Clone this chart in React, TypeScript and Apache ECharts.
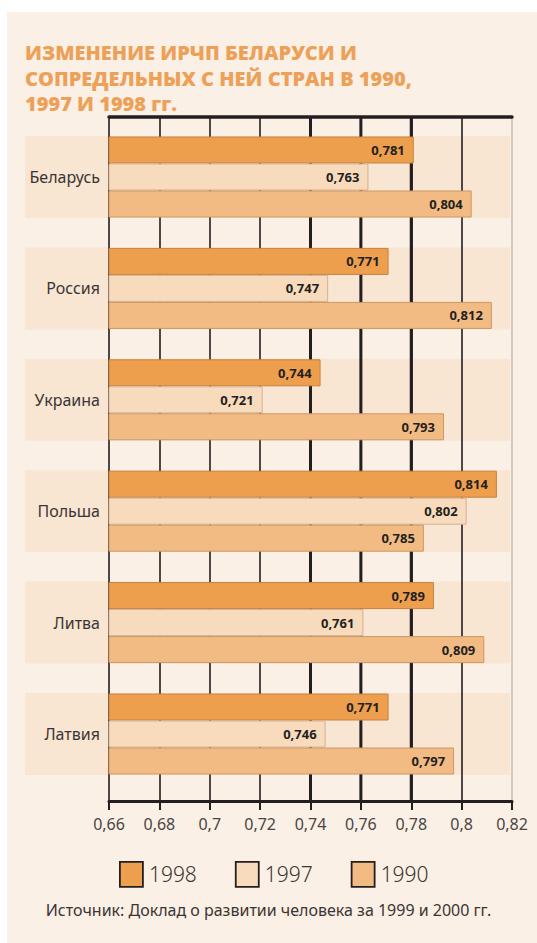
import React, { useEffect, useRef } from "react";
import * as echarts from "echarts";

const TITLE = "ИЗМЕНЕНИЕ ИРЧП БЕЛАРУСИ И\nСОПРЕДЕЛЬНЫХ С НЕЙ СТРАН В 1990,\n1997 И 1998 гг.";
const SOURCE = "Источник: Доклад о развитии человека за 1999 и 2000 гг.";
const countries = ["Беларусь", "Россия", "Украина", "Польша", "Литва", "Латвия"];
const years = ["1998", "1997", "1990"];
const values1998 = [0.781, 0.771, 0.744, 0.814, 0.789, 0.771];
const values1997 = [0.763, 0.747, 0.721, 0.802, 0.761, 0.746];
const values1990 = [0.804, 0.812, 0.793, 0.785, 0.809, 0.797];
const X_MIN = 0.66;
const X_MAX = 0.82;
const X_STEP = 0.02;
const thickLines = [0.74, 0.76, 0.78];

const FONT = "Noto Sans";
const fillColors = ["#EE9F4E", "#F8DBBD", "#F2BB84"];
const borderColors = ["#C7813F", "#D2B396", "#CC9863"];
const BAND = "#F8E5D2";
const INK = "#231F20";

export default function App() {
  const ref = useRef<HTMLDivElement>(null);
  useEffect(() => {
    if (!ref.current) return;
    const chart = echarts.init(ref.current, null, { renderer: "svg" });
    const fmt = (v: number) => String(+v.toFixed(2)).replace(".", ",");
    const seriesValues = [values1998, values1997, values1990];
    const barSeries = years.map((y, i) => ({
      type: "bar",
      name: y,
      xAxisIndex: 1,
      yAxisIndex: 1,
      barWidth: 27,
      barGap: "0%",
      z: 3,
      data: seriesValues[i],
      itemStyle: { color: fillColors[i], borderColor: borderColors[i], borderWidth: 1 },
      label: {
        show: true,
        position: "insideRight",
        distance: 9,
        formatter: (p: any) => Number(p.value).toFixed(3).replace(".", ","),
        fontFamily: FONT,
        fontWeight: "bold",
        fontSize: 13,
        color: INK,
      },
    }));
    const option: any = {
      animation: false,
      title: {
        text: TITLE,
        left: 20,
        top: 35,
        textStyle: {
          fontFamily: "Open Sans",
          fontWeight: 800,
          fontSize: 20,
          lineHeight: 25.5,
          color: "#EDA158",
        },
      },
      legend: {
        data: years,
        left: 114,
        top: 856,
        icon: "rect",
        itemWidth: 23,
        itemHeight: 25,
        itemGap: 38,
        itemStyle: { borderColor: INK, borderWidth: 1.8 },
        textStyle: { fontFamily: FONT, fontSize: 21, fontWeight: 300, color: "#3A3533", padding: [0, 0, 0, 1] },
      },
      graphic: [
        {
          type: "text",
          left: "center",
          top: 902,
          style: { text: SOURCE, fontFamily: FONT, fontSize: 16, fill: "#3A3533" },
        },
      ],
      grid: [
        { left: 109, right: 25, top: 117, bottom: 142 },
        { left: 109, right: 25, top: 121.3, bottom: 153.3 },
      ],
      xAxis: [
        {
          type: "value",
          gridIndex: 0,
          min: X_MIN,
          max: X_MAX,
          interval: X_STEP,
          position: "bottom",
          axisLine: { show: true, lineStyle: { color: INK, width: 3 } },
          axisTick: { show: true, length: 9, lineStyle: { color: INK, width: 2 } },
          axisLabel: { margin: 15, fontFamily: FONT, fontSize: 16, color: "#4A4543", formatter: fmt },
          splitLine: {
            show: true,
            lineStyle: {
              width: 1.6,
              color: [INK, INK, INK, INK, INK, INK, INK, INK, "#C9BFB5"],
            },
          },
        },
        {
          type: "value",
          gridIndex: 1,
          min: X_MIN,
          max: X_MAX,
          interval: X_STEP,
          show: false,
        },
        {
          type: "value",
          gridIndex: 0,
          min: X_MIN,
          max: X_MAX,
          interval: X_STEP,
          position: "top",
          axisLine: { show: true, lineStyle: { color: INK, width: 3.5 } },
          axisTick: { show: false },
          axisLabel: { show: false },
          splitLine: { show: false },
        },
      ],
      yAxis: [
        { type: "value", gridIndex: 0, min: 0, max: 1, show: false },
        {
          type: "category",
          gridIndex: 1,
          data: countries,
          inverse: true,
          axisLine: { show: false },
          axisTick: { show: false },
          splitLine: { show: false },
          axisLabel: { margin: 9, fontFamily: FONT, fontSize: 16, color: "#3A3533" },
        },
      ],
      series: [
        {
          type: "custom",
          xAxisIndex: 1,
          yAxisIndex: 1,
          z: -1,
          clip: false,
          silent: true,
          data: countries.map((_, i) => [X_MAX, i]),
          encode: { x: 0, y: 1 },
          renderItem: (params: any, api: any) => {
            const cs = params.coordSys;
            const yc = api.coord([X_MIN, api.value(1)])[1];
            const h = 82;
            return {
              type: "rect",
              shape: { x: 25, y: yc - h / 2, width: cs.x + cs.width - 2 - 25, height: h },
              style: { fill: BAND },
            };
          },
        },
        {
          type: "custom",
          xAxisIndex: 0,
          yAxisIndex: 0,
          z: 1,
          silent: true,
          data: thickLines.map((v) => [v, 0]),
          encode: { x: 0, y: 1 },
          renderItem: (params: any, api: any) => {
            const cs = params.coordSys;
            const x = api.coord([api.value(0), 0])[0];
            return {
              type: "line",
              shape: { x1: x, y1: cs.y, x2: x, y2: cs.y + cs.height },
              style: { stroke: INK, lineWidth: 3 },
            };
          },
        },
        ...barSeries,
      ],
    };
    chart.setOption(option);
    return () => chart.dispose();
  }, []);
  return (
    <div style={{ position: "fixed", left: 0, top: 0, width: 537, height: 943, background: "#fff" }}>
      <div style={{ position: "absolute", left: 7, top: 12, right: 0, bottom: 0, background: "#FAF0E5" }} />
      <div ref={ref} style={{ position: "absolute", left: 0, top: 0, width: 537, height: 943 }} />
    </div>
  );
}
